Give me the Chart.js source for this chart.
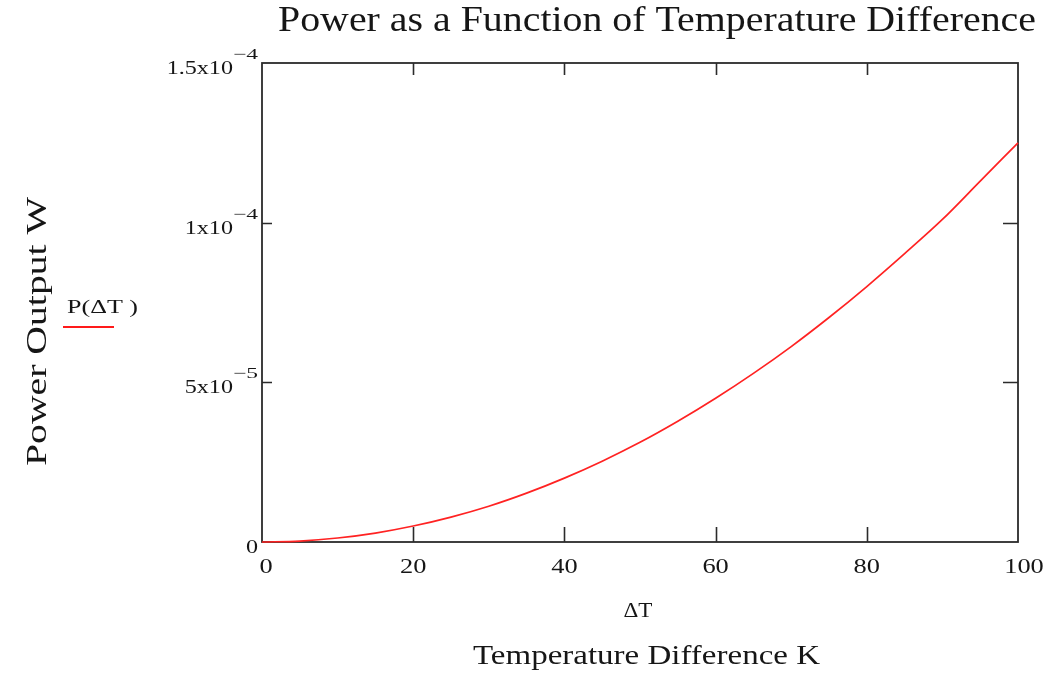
<!DOCTYPE html>
<html>
<head>
<meta charset="utf-8">
<script src="https://cdn.jsdelivr.net/npm/chart.js@4.4.0/dist/chart.umd.min.js"></script>
<style>
  html, body { margin: 0; padding: 0; background: #fff; }
  canvas { display: block; }
</style>
</head>
<body>
<canvas id="powerChart" width="1050" height="678"></canvas>
<script>
// Values
const deltaT = [0, 5, 10, 15, 20, 25, 30, 35, 40, 45, 50, 55, 60, 65, 70, 75, 80, 85, 90, 95, 100];
const powerW = [0, 0.3e-6, 1.25e-6, 2.8e-6, 5.0e-6, 7.8e-6, 1.12e-5, 1.53e-5, 2.0e-5, 2.53e-5,
                3.12e-5, 3.78e-5, 4.5e-5, 5.28e-5, 6.12e-5, 7.03e-5, 8.0e-5, 9.03e-5, 1.01e-4, 1.13e-4, 1.25e-4];

const xTicks = [0, 20, 40, 60, 80, 100];
const yTicks = [0, 5e-5, 1e-4, 1.5e-4];
const yTickMantissa = ['0', '5x10', '1x10', '1.5x10'];
const yTickExponent = ['', '\u22125', '\u22124', '\u22124'];

const titleText = 'Power as a Function of Temperature Difference';
const xAxisText = 'Temperature Difference K';
const yAxisText = 'Power Output W';
const xVarText = '\u0394T';
const legendText = 'P(\u0394T )';

const SERIF = '"Liberation Serif", "DejaVu Serif", serif';
const INK = '#161616';
const WIDE = 1.27; // the screenshot is stretched sideways

// draw text squeezed/stretched horizontally by sx
function wideText(ctx, text, x, y, sx, align) {
  ctx.save();
  ctx.translate(x, y);
  ctx.scale(sx, 1);
  ctx.textAlign = align || 'left';
  ctx.fillText(text, 0, 0);
  ctx.restore();
}

// draw text so it fills a given width
function fitText(ctx, text, x, y, width) {
  const w = ctx.measureText(text).width;
  wideText(ctx, text, x, y, width / w, 'left');
}

const framePlugin = {
  id: 'mathcadFrame',
  beforeDatasetsDraw(chart) {
    const { ctx, chartArea: a, scales } = chart;
    const xs = scales.x, ys = scales.y;
    ctx.save();
    ctx.strokeStyle = '#2b2b2b';
    ctx.lineWidth = 1.8;
    ctx.strokeRect(a.left, a.top, a.right - a.left, a.bottom - a.top);

    ctx.lineWidth = 1.6;
    ctx.beginPath();
    xTicks.slice(1, -1).forEach(v => {
      const px = Math.round(xs.getPixelForValue(v)) + 0.5;
      ctx.moveTo(px, a.bottom); ctx.lineTo(px, a.bottom - 15);
      ctx.moveTo(px, a.top); ctx.lineTo(px, a.top + 12);
    });
    yTicks.slice(1, -1).forEach(v => {
      const py = Math.round(ys.getPixelForValue(v)) + 0.5;
      ctx.moveTo(a.left, py); ctx.lineTo(a.left + 10, py);
      ctx.moveTo(a.right, py); ctx.lineTo(a.right - 15, py);
    });
    ctx.stroke();
    ctx.restore();
  },
  afterDraw(chart) {
    const { ctx, scales } = chart;
    const xs = scales.x, ys = scales.y;
    ctx.save();
    ctx.fillStyle = INK;
    ctx.textBaseline = 'alphabetic';

    // x tick labels
    ctx.font = '22px ' + SERIF;
    xTicks.forEach(v => {
      let px = xs.getPixelForValue(v);
      if (v === 0) px += 4;
      if (v === 100) px += 6;
      wideText(ctx, String(v), px, 573, 1.2, 'center');
    });

    // y tick labels: mantissa with raised exponent, right edge at 258
    yTicks.forEach((v, i) => {
      const py = ys.getPixelForValue(v);
      const right = 258;
      let ew = 0;
      if (yTickExponent[i]) {
        ew = 25;
        ctx.font = '15px ' + SERIF;
        fitText(ctx, yTickExponent[i], right - ew, py - 4, ew);
      }
      ctx.font = '19px ' + SERIF;
      wideText(ctx, yTickMantissa[i], right - ew, py + 11, WIDE, 'right');
    });

    // title
    ctx.font = '35px ' + SERIF;
    fitText(ctx, titleText, 278, 31, 758);

    // x variable and axis title
    ctx.font = '22px ' + SERIF;
    wideText(ctx, xVarText, 638, 617, 1.05, 'center');
    ctx.font = '27px ' + SERIF;
    fitText(ctx, xAxisText, 473, 664, 347);

    // y axis title (rotated)
    ctx.save();
    ctx.translate(46, 466);
    ctx.rotate(-Math.PI / 2);
    ctx.font = '30px ' + SERIF;
    fitText(ctx, yAxisText, 0, 0, 269);
    ctx.restore();

    // trace legend
    ctx.font = '19px ' + SERIF;
    fitText(ctx, legendText, 67, 313, 71);
    ctx.strokeStyle = '#ff1a1a';
    ctx.lineWidth = 2;
    ctx.beginPath();
    ctx.moveTo(63, 327); ctx.lineTo(114, 327);
    ctx.stroke();

    ctx.restore();
  }
};

const points = deltaT.map((t, i) => ({ x: t, y: powerW[i] }));

new Chart(document.getElementById('powerChart').getContext('2d'), {
  type: 'line',
  data: {
    datasets: [{
      label: legendText,
      data: points,
      borderColor: '#ff2222',
      borderWidth: 1.7,
      pointRadius: 0,
      fill: false,
      cubicInterpolationMode: 'monotone',
      clip: 4
    }]
  },
  options: {
    responsive: false,
    animation: false,
    layout: { padding: { left: 262, right: 32, top: 63, bottom: 136 } },
    plugins: {
      legend: { display: false },
      tooltip: { enabled: false },
      title: { display: false }
    },
    scales: {
      x: { type: 'linear', min: 0, max: 100, display: false },
      y: { type: 'linear', min: 0, max: 1.5e-4, display: false }
    }
  },
  plugins: [framePlugin]
});
</script>
</body>
</html>
